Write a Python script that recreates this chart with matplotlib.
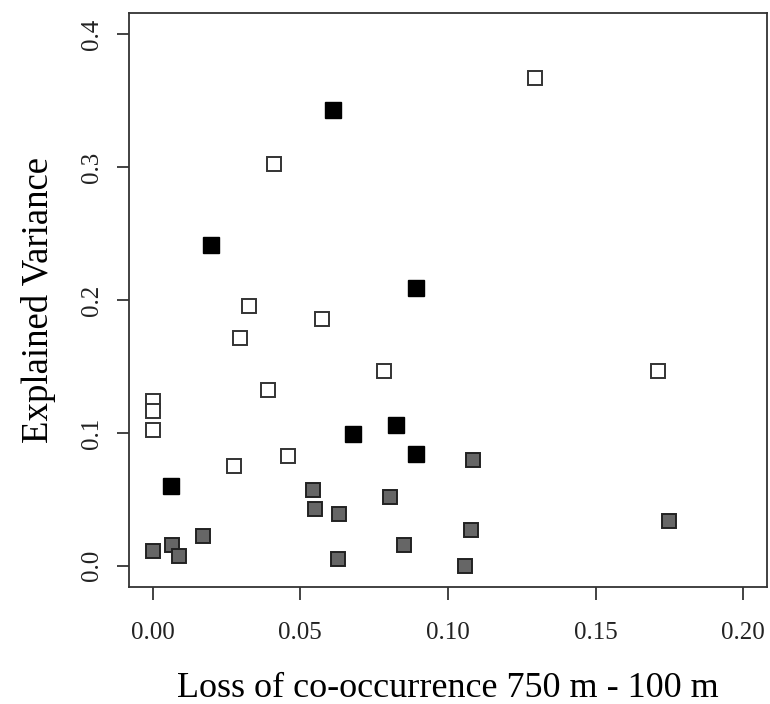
import matplotlib
matplotlib.use('Agg')
import matplotlib.pyplot as plt

# loss of co-occurrence (x) and explained variance (y) per group
black_x = [0.0612, 0.0198, 0.0891, 0.0678, 0.0824, 0.0891, 0.0063]
black_y = [0.343, 0.2415, 0.209, 0.0996, 0.1057, 0.0845, 0.0604]

white_x = [0.1294, 0.0411, 0.0326, 0.0296, 0.0573, 0.0391, 0.0783, 0.1710,
           0.0, 0.0, 0.0, 0.0276, 0.0458]
white_y = [0.3668, 0.3026, 0.1955, 0.1713, 0.1857, 0.1321, 0.1464, 0.1464,
           0.1238, 0.1162, 0.1019, 0.0755, 0.0823]

gray_x = [0.0, 0.0066, 0.0090, 0.0171, 0.0543, 0.0550, 0.0631, 0.0627,
          0.0803, 0.0850, 0.1058, 0.1077, 0.1084, 0.1747]
gray_y = [0.0113, 0.0158, 0.0075, 0.0226, 0.0574, 0.0430, 0.0392, 0.0053,
          0.0521, 0.0158, 0.0, 0.0272, 0.0800, 0.0340]

x_ticks = [0.00, 0.05, 0.10, 0.15, 0.20]
x_tick_labels = ['0.00', '0.05', '0.10', '0.15', '0.20']
y_ticks = [0.0, 0.1, 0.2, 0.3, 0.4]
y_tick_labels = ['0.0', '0.1', '0.2', '0.3', '0.4']

plt.rcParams['font.family'] = ['Liberation Serif', 'DejaVu Serif']

fig = plt.figure(figsize=(7.7, 7.04), dpi=100)
ax = fig.add_axes([0.1675, 0.166, 0.8285, 0.8155])

ax.plot(white_x, white_y, linestyle='none', marker='s', markersize=10,
        markerfacecolor='white', markeredgecolor='#333333', markeredgewidth=1.4)
ax.plot(gray_x, gray_y, linestyle='none', marker='s', markersize=10,
        markerfacecolor='#666666', markeredgecolor='#222222', markeredgewidth=1.4)
ax.plot(black_x, black_y, linestyle='none', marker='s', markersize=11,
        markerfacecolor='black', markeredgecolor='black', markeredgewidth=1.0)

ax.set_xlim(-0.008, 0.208)
ax.set_ylim(-0.016, 0.416)

ax.set_xticks(x_ticks)
ax.set_xticklabels(x_tick_labels)
ax.set_yticks(y_ticks)
ax.set_yticklabels(y_tick_labels, rotation=90, va='center')
ax.tick_params(direction='out', length=9, width=1.2, labelsize=18, colors='#222222')
ax.tick_params(axis='x', pad=16)
ax.tick_params(axis='y', pad=10)

for s in ax.spines.values():
    s.set_linewidth(1.3)
    s.set_color('#333333')

ax.set_xlabel('Loss of co-occurrence 750 m - 100 m', fontsize=26, labelpad=20)
ax.set_ylabel('Explained Variance', fontsize=26.5, labelpad=18)

fig.savefig('out.png', dpi=100)
